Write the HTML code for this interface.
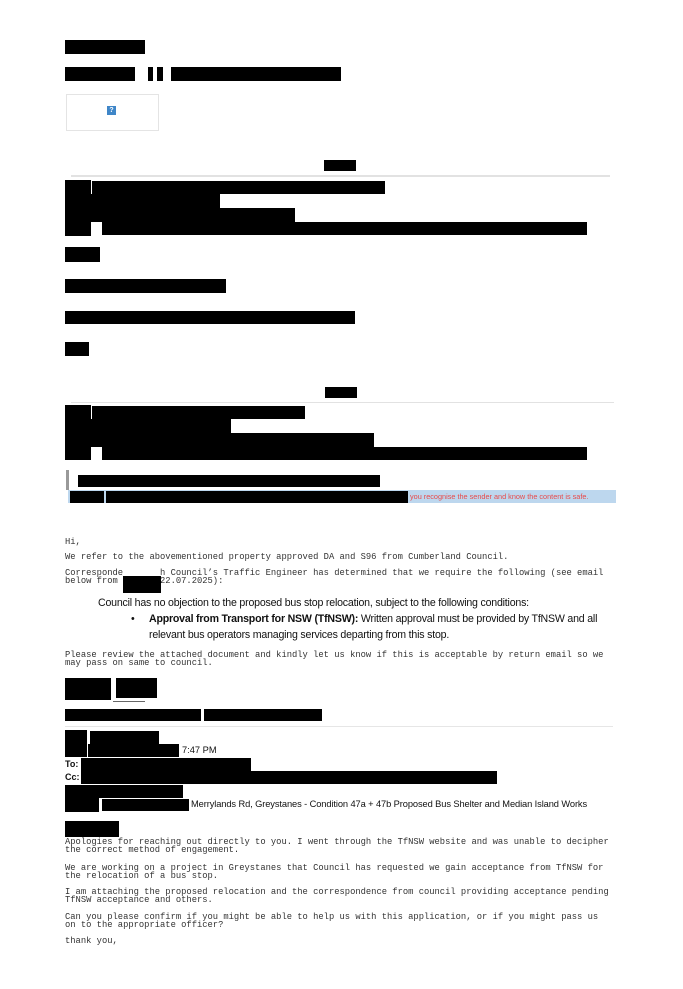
<!DOCTYPE html>
<html><head><meta charset="utf-8"><style>
body{margin:0;background:#fff;}
#p{position:relative;width:683px;height:989px;overflow:hidden;background:#fff;}
.b{position:absolute;background:#000;}
.t{position:absolute;white-space:pre;font-family:"Liberation Mono",monospace;font-size:8.8px;line-height:8.3px;color:#333;}
.s{position:absolute;white-space:pre;font-family:"Liberation Sans",sans-serif;color:#111;}
.l{position:absolute;height:1px;background:#ddd;}
</style></head><body><div id="p">
<div class="b" style="left:65px;top:40px;width:80px;height:14px"></div>
<div class="b" style="left:65px;top:67px;width:70px;height:14px"></div>
<div class="b" style="left:148px;top:67px;width:5px;height:14px"></div>
<div class="b" style="left:157px;top:67px;width:6px;height:14px"></div>
<div class="b" style="left:171px;top:67px;width:170px;height:14px"></div>
<div style="position:absolute;left:66px;top:94px;width:91px;height:35px;border:1px solid #e4e4e4"></div>
<div style="position:absolute;left:107px;top:106px;width:9px;height:9px;background:#3f86c8;color:#fff;font:bold 7px 'Liberation Sans',sans-serif;text-align:center;line-height:9px">?</div>

<div class="b" style="left:324px;top:160px;width:32px;height:11px"></div>
<div class="l" style="left:71px;top:175px;width:539px;height:2px;background:#e2e2e2"></div>
<div class="b" style="left:65px;top:180px;width:26px;height:56px"></div>
<div class="b" style="left:92px;top:181px;width:293px;height:13px"></div>
<div class="b" style="left:89px;top:194px;width:131px;height:14px"></div>
<div class="b" style="left:80px;top:208px;width:215px;height:14px"></div>
<div class="b" style="left:102px;top:222px;width:485px;height:13px"></div>
<div class="b" style="left:65px;top:247px;width:35px;height:15px"></div>
<div class="b" style="left:65px;top:279px;width:161px;height:14px"></div>
<div class="b" style="left:65px;top:311px;width:290px;height:13px"></div>
<div class="b" style="left:65px;top:342px;width:24px;height:14px"></div>

<div class="b" style="left:325px;top:387px;width:32px;height:11px"></div>
<div class="l" style="left:71px;top:402px;width:543px;background:#e2e2e2"></div>
<div class="b" style="left:65px;top:405px;width:26px;height:55px"></div>
<div class="b" style="left:92px;top:406px;width:213px;height:13px"></div>
<div class="b" style="left:88px;top:419px;width:143px;height:14px"></div>
<div class="b" style="left:80px;top:433px;width:294px;height:14px"></div>
<div class="b" style="left:102px;top:447px;width:485px;height:13px"></div>
<div style="position:absolute;left:66px;top:470px;width:3px;height:20px;background:#999"></div>
<div class="b" style="left:78px;top:475px;width:302px;height:12px"></div>
<div style="position:absolute;left:68px;top:490px;width:548px;height:13px;background:#bdd7ee"></div>
<div class="b" style="left:70px;top:491px;width:34px;height:12px"></div>
<div class="b" style="left:106px;top:491px;width:302px;height:12px"></div>
<div class="s" style="left:410px;top:491px;font-size:7.3px;line-height:11px;color:#e84a4a">you recognise the sender and know the content is safe.</div>

<div class="t" style="left:65px;top:538px">Hi,</div>
<div class="t" style="left:65px;top:553px">We refer to the abovementioned property approved DA and S96 from Cumberland Council.</div>
<div class="t" style="left:65px;top:569px">Corresponde       h Council’s Traffic Engineer has determined that we require the following (see email
below from        22.07.2025):</div>
<div class="b" style="left:123px;top:576px;width:38px;height:17px"></div>
<div class="s" style="left:98px;top:597px;font-size:10.6px;line-height:12px;letter-spacing:-0.2px">Council has no objection to the proposed bus stop relocation, subject to the following conditions:</div>
<div class="s" style="left:131px;top:613px;font-size:10.6px;line-height:12px">•</div>
<div class="s" style="left:149px;top:613px;font-size:10.6px;line-height:12px;letter-spacing:-0.2px"><b>Approval from Transport for NSW (TfNSW):</b> Written approval must be provided by TfNSW and all</div>
<div class="s" style="left:149px;top:629px;font-size:10.6px;line-height:12px;letter-spacing:-0.2px">relevant bus operators managing services departing from this stop.</div>
<div class="t" style="left:65px;top:651px">Please review the attached document and kindly let us know if this is acceptable by return email so we
may pass on same to council.</div>

<div class="b" style="left:65px;top:678px;width:46px;height:22px"></div>
<div class="b" style="left:116px;top:678px;width:41px;height:20px"></div>
<div style="position:absolute;left:113px;top:701px;width:32px;height:1px;background:#666"></div>
<div class="b" style="left:65px;top:709px;width:136px;height:12px"></div>
<div class="b" style="left:204px;top:709px;width:118px;height:12px"></div>
<div class="l" style="left:65px;top:726px;width:548px;background:#e6e6e6"></div>

<div class="b" style="left:65px;top:730px;width:22px;height:27px"></div>
<div class="b" style="left:90px;top:731px;width:69px;height:13px"></div>
<div class="b" style="left:88px;top:744px;width:91px;height:13px"></div>
<div class="s" style="left:182px;top:745px;font-size:9.3px;line-height:11px">7:47 PM</div>
<div class="s" style="left:65px;top:759px;font-size:9px;line-height:11px;font-weight:bold">To:</div>
<div class="b" style="left:81px;top:758px;width:170px;height:13px"></div>
<div class="s" style="left:65px;top:772px;font-size:9px;line-height:11px;font-weight:bold">Cc:</div>
<div class="b" style="left:81px;top:771px;width:416px;height:13px"></div>
<div class="b" style="left:65px;top:785px;width:118px;height:13px"></div>
<div class="b" style="left:65px;top:798px;width:34px;height:14px"></div>
<div class="b" style="left:102px;top:799px;width:87px;height:12px"></div>
<div class="s" style="left:191px;top:798px;font-size:9.3px;line-height:12px;letter-spacing:-0.1px">Merrylands Rd, Greystanes - Condition 47a + 47b Proposed Bus Shelter and Median Island Works</div>

<div class="b" style="left:65px;top:821px;width:54px;height:16px"></div>
<div class="t" style="left:65px;top:838px">Apologies for reaching out directly to you. I went through the TfNSW website and was unable to decipher
the correct method of engagement.</div>
<div class="t" style="left:65px;top:864px">We are working on a project in Greystanes that Council has requested we gain acceptance from TfNSW for
the relocation of a bus stop.</div>
<div class="t" style="left:65px;top:888px">I am attaching the proposed relocation and the correspondence from council providing acceptance pending
TfNSW acceptance and others.</div>
<div class="t" style="left:65px;top:913px">Can you please confirm if you might be able to help us with this application, or if you might pass us
on to the appropriate officer?</div>
<div class="t" style="left:65px;top:937px">thank you,</div>
</div></body></html>
